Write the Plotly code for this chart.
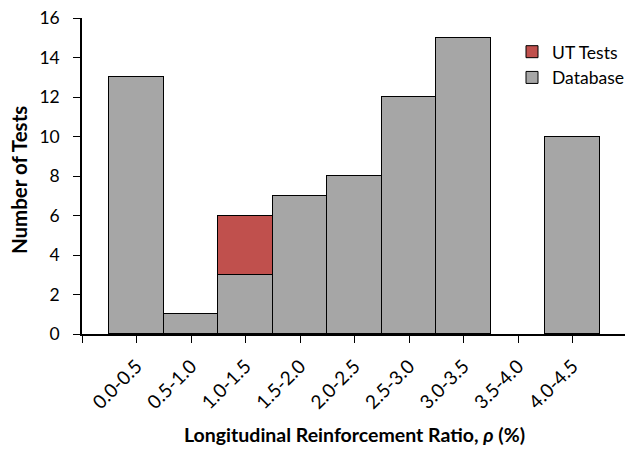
import plotly.graph_objects as go

categories = ["0.0-0.5", "0.5-1.0", "1.0-1.5", "1.5-2.0", "2.0-2.5",
              "2.5-3.0", "3.0-3.5", "3.5-4.0", "4.0-4.5"]
database = [13, 1, 3, 7, 8, 12, 15, 0, 10]
ut_tests = [0, 0, 3, 0, 0, 0, 0, 0, 0]
y_ticks = [0, 2, 4, 6, 8, 10, 12, 14, 16]

FONT = "Lato"
idx = list(range(len(categories)))


def nz(vals):
    return [v if v else None for v in vals]


fig = go.Figure()
fig.add_trace(go.Bar(
    x=idx, y=nz(database), name="Database", legendgroup="db",
    marker=dict(color="#A6A6A6", line=dict(color="#000000", width=1)),
    width=1.0,
))
fig.add_trace(go.Bar(
    x=idx, y=nz(ut_tests), name="UT Tests", legendgroup="ut",
    marker=dict(color="#C0504D", line=dict(color="#000000", width=1)),
    width=1.0,
))

# page body has an 8px margin, so the figure is sized to fill the window
fig.update_layout(
    barmode="stack",
    bargap=0,
    width=625, height=442,
    margin=dict(l=74, r=6, t=10, b=116, autoexpand=False),
    plot_bgcolor="white", paper_bgcolor="white",
    font=dict(family=FONT, size=19, color="#000000"),
    showlegend=True,
    legend=dict(
        x=0.789, y=0.95, xanchor="left", yanchor="top",
        traceorder="reversed",
        font=dict(family=FONT, size=17.5, color="#000000"),
        itemwidth=30, tracegroupgap=0,
        bgcolor="rgba(0,0,0,0)",
    ),
    xaxis=dict(
        range=[-1, 9],
        tickmode="array",
        tickvals=[-1] + idx + [9],
        ticktext=[""] + categories + [""],
        tickangle=-45,
        ticks="outside", ticklen=7, tickwidth=1.3, tickcolor="#000000",
        showline=True, linecolor="#000000", linewidth=1.5,
        showgrid=False, zeroline=False, automargin=False,
        ticklabelstandoff=5,
        tickfont=dict(family=FONT, size=19),
    ),
    yaxis=dict(
        range=[0, 16],
        tickmode="array", tickvals=y_ticks,
        ticks="outside", ticklen=7, tickwidth=1.3, tickcolor="#000000",
        showline=True, linecolor="#000000", linewidth=1.5,
        showgrid=False, zeroline=False, automargin=False,
        ticklabelstandoff=10, ticklabeloverflow="allow",
        tickfont=dict(family=FONT, size=17.5),
    ),
    annotations=[
        dict(text="<b>Longitudinal Reinforcement Ratio, <i>ρ</i> (%)</b>",
             xref="paper", yref="paper", x=0.5, y=-0.318,
             xanchor="center", yanchor="middle", showarrow=False,
             font=dict(family=FONT, size=19.5)),
        dict(text="<b>Number of Tests</b>",
             xref="paper", yref="paper", x=-0.1156, y=0.487,
             xanchor="center", yanchor="middle", showarrow=False,
             textangle=-90, font=dict(family=FONT, size=20.5)),
    ],
)

fig.write_html("out.html")
